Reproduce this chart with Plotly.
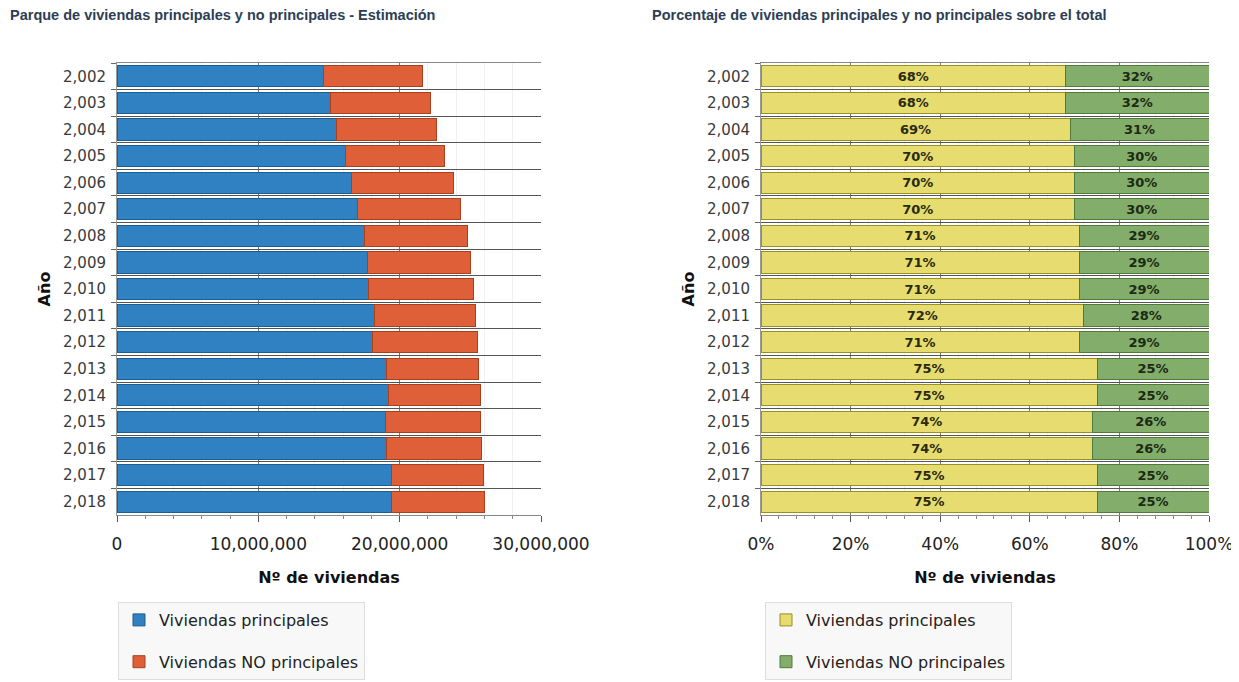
import plotly.graph_objects as go

years = ["2,002", "2,003", "2,004", "2,005", "2,006", "2,007", "2,008", "2,009", "2,010",
         "2,011", "2,012", "2,013", "2,014", "2,015", "2,016", "2,017", "2,018"]
principales = [14600000, 15100000, 15500000, 16200000, 16600000, 17000000, 17500000, 17700000,
               17800000, 18200000, 18100000, 19100000, 19200000, 19000000, 19100000, 19400000, 19400000]
no_principales = [7000000, 7100000, 7100000, 7000000, 7200000, 7300000, 7300000, 7300000,
                  7400000, 7200000, 7400000, 6500000, 6500000, 6700000, 6700000, 6500000, 6600000]
pct_principales = [68, 68, 69, 70, 70, 70, 71, 71, 71, 72, 71, 75, 75, 74, 74, 75, 75]
pct_no_principales = [32, 32, 31, 30, 30, 30, 29, 29, 29, 28, 29, 25, 25, 26, 26, 25, 25]

title_left = "Parque de viviendas principales y no principales - Estimación"
title_right = "Porcentaje de viviendas principales y no principales sobre el total"
name_p = "Viviendas principales"
name_np = "Viviendas NO principales"
x_title = "Nº de viviendas"
y_title = "Año"

W, H = 1239, 682
OFF = 8  # page body margin
TICKFONT = dict(family="DejaVu Sans", size=15, color="#3a3a3a")
XTICKFONT = dict(family="DejaVu Sans", size=17, color="#222")
AXTITLE = dict(family="DejaVu Sans", size=16, color="#111", weight="bold")


def px(x):
    return (x - OFF) / W


def py(y):
    return 1 - (y - OFF) / H


fig = go.Figure()

fig.add_trace(go.Bar(y=years, x=principales, orientation="h", name=name_p,
                     marker=dict(color="#3081c2", line=dict(color="#1d5d90", width=1)),
                     xaxis="x", yaxis="y", legend="legend", legendgroup="a"))
fig.add_trace(go.Bar(y=years, x=no_principales, orientation="h", name=name_np,
                     marker=dict(color="#df6038", line=dict(color="#a8401e", width=1)),
                     xaxis="x", yaxis="y", legend="legend", legendgroup="b"))

fig.add_trace(go.Bar(y=years, x=pct_principales, orientation="h", name=name_p,
                     text=[f"{v}%" for v in pct_principales], textposition="inside",
                     insidetextanchor="middle",
                     textfont=dict(family="DejaVu Sans", size=13, color="#2a2a10", weight="bold"),
                     marker=dict(color="#e6dc70", line=dict(color="#9a9020", width=1)),
                     xaxis="x2", yaxis="y2", legend="legend2", legendgroup="c"))
fig.add_trace(go.Bar(y=years, x=pct_no_principales, orientation="h", name=name_np,
                     text=[f"{v}%" for v in pct_no_principales], textposition="inside",
                     insidetextanchor="middle",
                     textfont=dict(family="DejaVu Sans", size=13, color="#1c2a14", weight="bold"),
                     marker=dict(color="#82ad6a", line=dict(color="#4f7a3a", width=1)),
                     xaxis="x2", yaxis="y2", legend="legend2", legendgroup="d"))

ydom = [py(515), py(63)]

common_y = dict(type="category", autorange="reversed", tickfont=TICKFONT, ticks="outside",
                ticklen=5, tickcolor="#666", tickson="boundaries", showgrid=True,
                gridcolor="#555", gridwidth=1, showline=True, linecolor="#999",
                automargin=False, ticklabelstandoff=7,
                title=dict(text=y_title, font=AXTITLE, standoff=8), domain=ydom)

common_x = dict(ticks="outside", ticklen=6, tickfont=XTICKFONT,
                tickcolor="#555", showgrid=True, gridcolor="#777", gridwidth=1,
                showline=True, linecolor="#888", mirror=True, zeroline=False,
                automargin=False, ticklabelstandoff=8,
                title=dict(text=x_title, font=AXTITLE, standoff=18))

legend_common = dict(xanchor="left", yanchor="top",
                     bgcolor="#f8f8f8", bordercolor="#dddddd", borderwidth=1,
                     font=dict(family="DejaVu Sans", size=16, color="#222"),
                     tracegroupgap=18, traceorder="grouped")

fig.update_layout(
    width=W, height=H, margin=dict(l=0, r=0, t=0, b=0, autoexpand=False),
    paper_bgcolor="white", plot_bgcolor="white",
    barmode="stack", bargap=0.2,
    showlegend=True,
    xaxis=dict(domain=[px(117), px(541)], range=[0, 30000000], dtick=10000000,
               tickformat=",",
               minor=dict(dtick=2000000, showgrid=True, gridcolor="#f0f0f0",
                          ticks="outside", ticklen=3, tickcolor="#888"),
               anchor="y", **common_x),
    yaxis=dict(anchor="x", **common_y),
    xaxis2=dict(domain=[px(761), px(1209)], range=[0, 100], dtick=20,
                ticksuffix="%",
                minor=dict(dtick=4, showgrid=True, gridcolor="#f0f0f0",
                           ticks="outside", ticklen=3, tickcolor="#888"),
                anchor="y2", **common_x),
    yaxis2=dict(anchor="x2", **common_y),
    legend=dict(x=px(118), y=py(602), **legend_common),
    legend2=dict(x=px(765), y=py(602), **legend_common),
    annotations=[
        dict(text=title_left, x=px(8), y=py(15), xref="paper", yref="paper",
             xanchor="left", yanchor="middle", showarrow=False,
             font=dict(family="Liberation Sans", size=14.5, color="#2c3e55", weight="bold")),
        dict(text=title_right, x=px(650), y=py(15), xref="paper", yref="paper",
             xanchor="left", yanchor="middle", showarrow=False,
             font=dict(family="Liberation Sans", size=14.5, color="#2c3e55", weight="bold")),
    ],
)

fig.write_html("out.html")
